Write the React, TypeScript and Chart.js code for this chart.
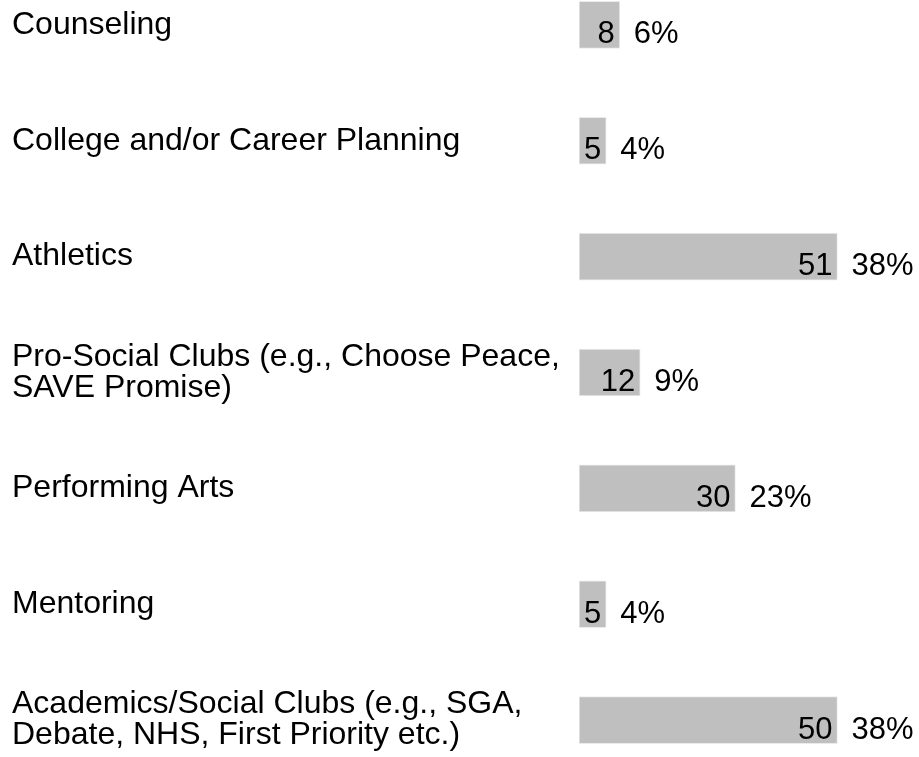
import React, { useEffect, useRef } from "react";
import { Chart, registerables } from "chart.js";

Chart.register(...registerables);

const categories: (string | string[])[] = [
  "Counseling",
  "College and/or Career Planning",
  "Athletics",
  ["Pro-Social Clubs (e.g., Choose Peace,", "SAVE Promise)"],
  "Performing Arts",
  "Mentoring",
  ["Academics/Social Clubs (e.g., SGA,", "Debate, NHS, First Priority etc.)"],
];
const counts = [8, 5, 51, 12, 30, 5, 50];
const percents = [6, 4, 38, 9, 23, 4, 38];

const FONT_FAMILY = '"Liberation Sans", Arial, Helvetica, sans-serif';

const valueLabels = {
  id: "valueLabels",
  afterDatasetsDraw(chart: any) {
    const ctx = chart.ctx;
    const meta = chart.getDatasetMeta(0);
    ctx.save();
    ctx.font = `31px ${FONT_FAMILY}`;
    ctx.fillStyle = "#000000";
    ctx.textBaseline = "alphabetic";
    meta.data.forEach((bar: any, i: number) => {
      const { x, y } = bar.getProps(["x", "y"], true);
      ctx.textAlign = "right";
      ctx.fillText(String(counts[i]), x - 5, y + 18.5);
      ctx.textAlign = "left";
      ctx.fillText(`${percents[i]}%`, x + 14, y + 18.5);
    });
    ctx.restore();
  },
};

export default function App() {
  const canvasRef = useRef<HTMLCanvasElement | null>(null);

  useEffect(() => {
    if (!canvasRef.current) return;
    const chart = new Chart(canvasRef.current, {
      type: "bar",
      data: {
        labels: categories,
        datasets: [
          {
            data: percents,
            backgroundColor: "#bfbfbf",
            borderColor: "#ebebeb",
            borderWidth: 1,
            borderSkipped: false,
            barThickness: 47,
          },
        ],
      },
      options: {
        indexAxis: "y",
        animation: false,
        responsive: true,
        maintainAspectRatio: false,
        events: [],
        layout: { padding: { left: 12, right: 0, top: 0, bottom: 0 } },
        plugins: {
          legend: { display: false },
          tooltip: { enabled: false },
        },
        scales: {
          x: {
            display: false,
            min: 0,
            max: 50,
          },
          y: {
            type: "category",
            offset: true,
            grid: { display: false },
            border: { display: false },
            ticks: {
              autoSkip: false,
              crossAlign: "far",
              padding: 0,
              color: "#000000",
              font: { family: FONT_FAMILY, size: 32, lineHeight: 0.97 },
            },
            afterFit: (scale: any) => {
              scale.width = 567;
              scale.paddingTop = 0;
              scale.paddingBottom = 0;
            },
          },
        },
      },
      plugins: [valueLabels],
    } as any);
    return () => chart.destroy();
  }, []);

  return (
    <div
      style={{
        position: "fixed",
        left: 0,
        top: -33,
        width: 919,
        height: 811,
        background: "#ffffff",
      }}
    >
      <canvas ref={canvasRef} />
    </div>
  );
}
